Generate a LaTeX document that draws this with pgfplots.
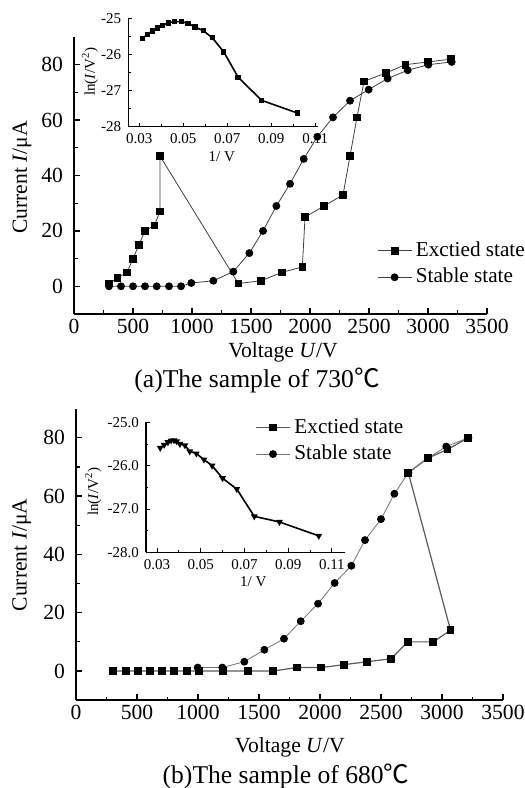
\documentclass[border=0pt]{standalone}
\usepackage{fontspec}
\setmainfont{Liberation Serif}
\newfontfamily\cjk{Noto Sans CJK SC}
\usepackage{pgfplots}
\pgfplotsset{compat=1.18}

\pgfplotsset{
  mainax/.style={
    scale only axis, anchor=south west, clip=false,
    axis lines*=left, axis line style={line width=0.9pt,-},
    tick pos=left, tick align=inside,
    major tick length=3pt, minor tick length=1.8pt,
    every tick/.style={black, line width=0.6pt},
    xmin=0, xmax=3500, ymin=-10, ymax=90,
    xtick={0,500,...,3500}, ytick={0,20,...,80},
    xticklabels={0,500,1000,1500,2000,2500,3000,3500},
    yticklabels={0,20,40,60,80},
    minor x tick num=1, minor y tick num=1,
    ticklabel style={font=\fontsize{10.8}{12}\selectfont},
    xticklabel style={yshift=1pt},
    yticklabel style={xshift=-2pt},
    label style={font=\fontsize{10.8}{12}\selectfont},
    legend cell align=left,
  },
  inset/.style={
    scale only axis, anchor=south west, clip=false,
    axis lines*=left, axis line style={line width=0.6pt,-},
    tick pos=left, tick align=inside,
    major tick length=2pt, minor tick length=1.2pt,
    every tick/.style={black, line width=0.4pt},
    ymin=-28, ymax=-25,
    xtick={0.03,0.05,0.07,0.09,0.11},
    xticklabels={0.03,0.05,0.07,0.09,0.11},
    ytick={-28,-27,-26,-25},
    minor x tick num=1, minor y tick num=1,
    ticklabel style={font=\fontsize{7.5}{8}\selectfont},
    label style={font=\fontsize{7.5}{8}\selectfont},
  },
  exc/.style={color=black!75, line width=0.4pt, mark=square*, mark size=1.65pt,
    mark options={solid, fill=black, draw=black}},
  stb/.style={color=black!75, line width=0.4pt, mark=*, mark size=1.75pt,
    mark options={solid, fill=black, draw=black}},
  leg/.style={draw=none, fill=none, inner sep=0pt, row sep=0pt,
    font=\fontsize{10.6}{12}\selectfont,
    nodes={text height=7.5pt, text depth=2pt, inner sep=1.9pt}},
}

\begin{document}
\begin{tikzpicture}

% ---- (a) 730 C ----
\begin{axis}[mainax, at={(37pt,-157pt)}, width=206.5pt, height=138.5pt,
    xlabel={Voltage \textit{U}/V}, ylabel={Current \textit{I}/μA},
    xlabel style={at={(axis description cs:0.506,-0.138)}, anchor=center},
    ylabel style={at={(axis description cs:-0.126,0.493)}, anchor=center},
    legend style={leg, at={(axis description cs:0.733,0.1805)}, anchor=west}]
\addplot[exc] coordinates {
  (297,1) (367,3) (449,5) (500,10) (551,15) (602,20) (681,22) (729,27)
  (729,47) (1393,1) (1585,2) (1760,5) (1935,7) (1958,25) (2119,29)
  (2280,33) (2339,47) (2398,61) (2458,74) (2644,77) (2808,80) (3000,81) (3193,82)};
\addplot[stb] coordinates {
  (297,0) (398,0) (500,0) (602,0) (701,0) (805,0) (907,0) (994,1.2)
  (1181,2) (1350,5.3) (1486,12) (1602,20) (1715,29) (1831,37) (1947,46)
  (2062,54) (2195,61) (2339,67) (2497,71) (2658,75) (2828,78) (3003,80) (3201,81)};
\legend{Exctied state, Stable state}
\end{axis}

\begin{axis}[inset, at={(64.15pt,-63.35pt)}, width=94.6pt, height=54.2pt,
    xmin=0.025, xmax=0.111,
    yticklabels={-28,-27,-26,-25},
    xlabel={1/ V}, ylabel={ln(\textit{I}/V\textsuperscript{2})},
    xlabel style={at={(axis description cs:0.494,-0.277)}, anchor=center},
    ylabel style={at={(axis description cs:-0.202,0.507)}, anchor=center}]
\addplot[black, line width=0.8pt, mark=square*, mark size=0.9pt] coordinates {
  (0.0315,-25.565) (0.0336,-25.44) (0.0359,-25.35) (0.0382,-25.27)
  (0.0406,-25.19) (0.0432,-25.13) (0.0459,-25.09) (0.0490,-25.09)
  (0.0521,-25.14) (0.0553,-25.24) (0.0590,-25.34) (0.0632,-25.54)
  (0.0684,-25.93) (0.0749,-26.63) (0.0856,-27.27) (0.1018,-27.62)};
\end{axis}

% ---- (b) 680 C ----
\begin{axis}[mainax, at={(38pt,-350.1pt)}, width=213.5pt, height=145.8pt,
    xlabel={Voltage \textit{U}/V}, ylabel={Current \textit{I}/μA},
    xlabel style={at={(axis description cs:0.501,-0.162)}, anchor=center},
    ylabel style={at={(axis description cs:-0.127,0.498)}, anchor=center},
    legend style={leg, at={(axis description cs:0.419,0.8896)}, anchor=west}]
\addplot[exc, color=black!65, line width=0.6pt] coordinates {
  (301,0) (407,0) (506,0) (607,0) (708,0) (806,0) (907,0) (1008,0)
  (1208,0) (1412,0) (1612,0) (1809,1.2) (2011,1.2) (2197,2.2) (2388,3.2)
  (2582,4.2) (2719,10) (2929,10) (3070,14) (2724,68) (2883,73) (3045,76) (3216,80)};
\addplot[stb, color=black!55] coordinates {
  (997,1.2) (1199,1.2) (1380,3.2) (1544,7.3) (1705,11.1) (1842,17.1)
  (1984,23.1) (2120,30.2) (2257,36.1) (2369,44.9) (2500,52.1) (2610,60.8)
  (2724,68) (2883,73) (3035,77) (3216,80)};
\legend{Exctied state, Stable state}
\end{axis}

\begin{axis}[inset, at={(73pt,-276.15pt)}, width=99.5pt, height=65pt,
    xmin=0.025, xmax=0.116,
    yticklabels={-28.0,-27.0,-26.0,-25.0},
    xlabel={1/ V}, ylabel={ln(\textit{I}/V\textsuperscript{2})},
    xlabel style={at={(axis description cs:0.539,-0.226)}, anchor=center},
    ylabel style={at={(axis description cs:-0.265,0.466)}, anchor=center}]
\addplot[black, line width=0.8pt, mark=triangle*, mark size=1.2pt,
    mark options={rotate=180}] coordinates {
  (0.0315,-25.59) (0.0333,-25.52) (0.0350,-25.46) (0.0365,-25.42)
  (0.0378,-25.415) (0.0390,-25.44) (0.0405,-25.50) (0.0428,-25.53)
  (0.0450,-25.67) (0.0480,-25.72) (0.0515,-25.86) (0.0552,-26.00)
  (0.0600,-26.29) (0.0665,-26.54) (0.0745,-27.17) (0.0860,-27.30)
  (0.1040,-27.62)};
\end{axis}

\node[font=\fontsize{12.8}{14}\selectfont] at (128.5pt,-190pt) {(a)The sample of 730{\cjk ℃}};
\node[font=\fontsize{12.8}{14}\selectfont] at (143pt,-388pt) {(b)The sample of 680{\cjk ℃}};

\pgfresetboundingbox
\path[use as bounding box] (0,0) rectangle (262.5pt,-394pt);
\end{tikzpicture}
\end{document}
